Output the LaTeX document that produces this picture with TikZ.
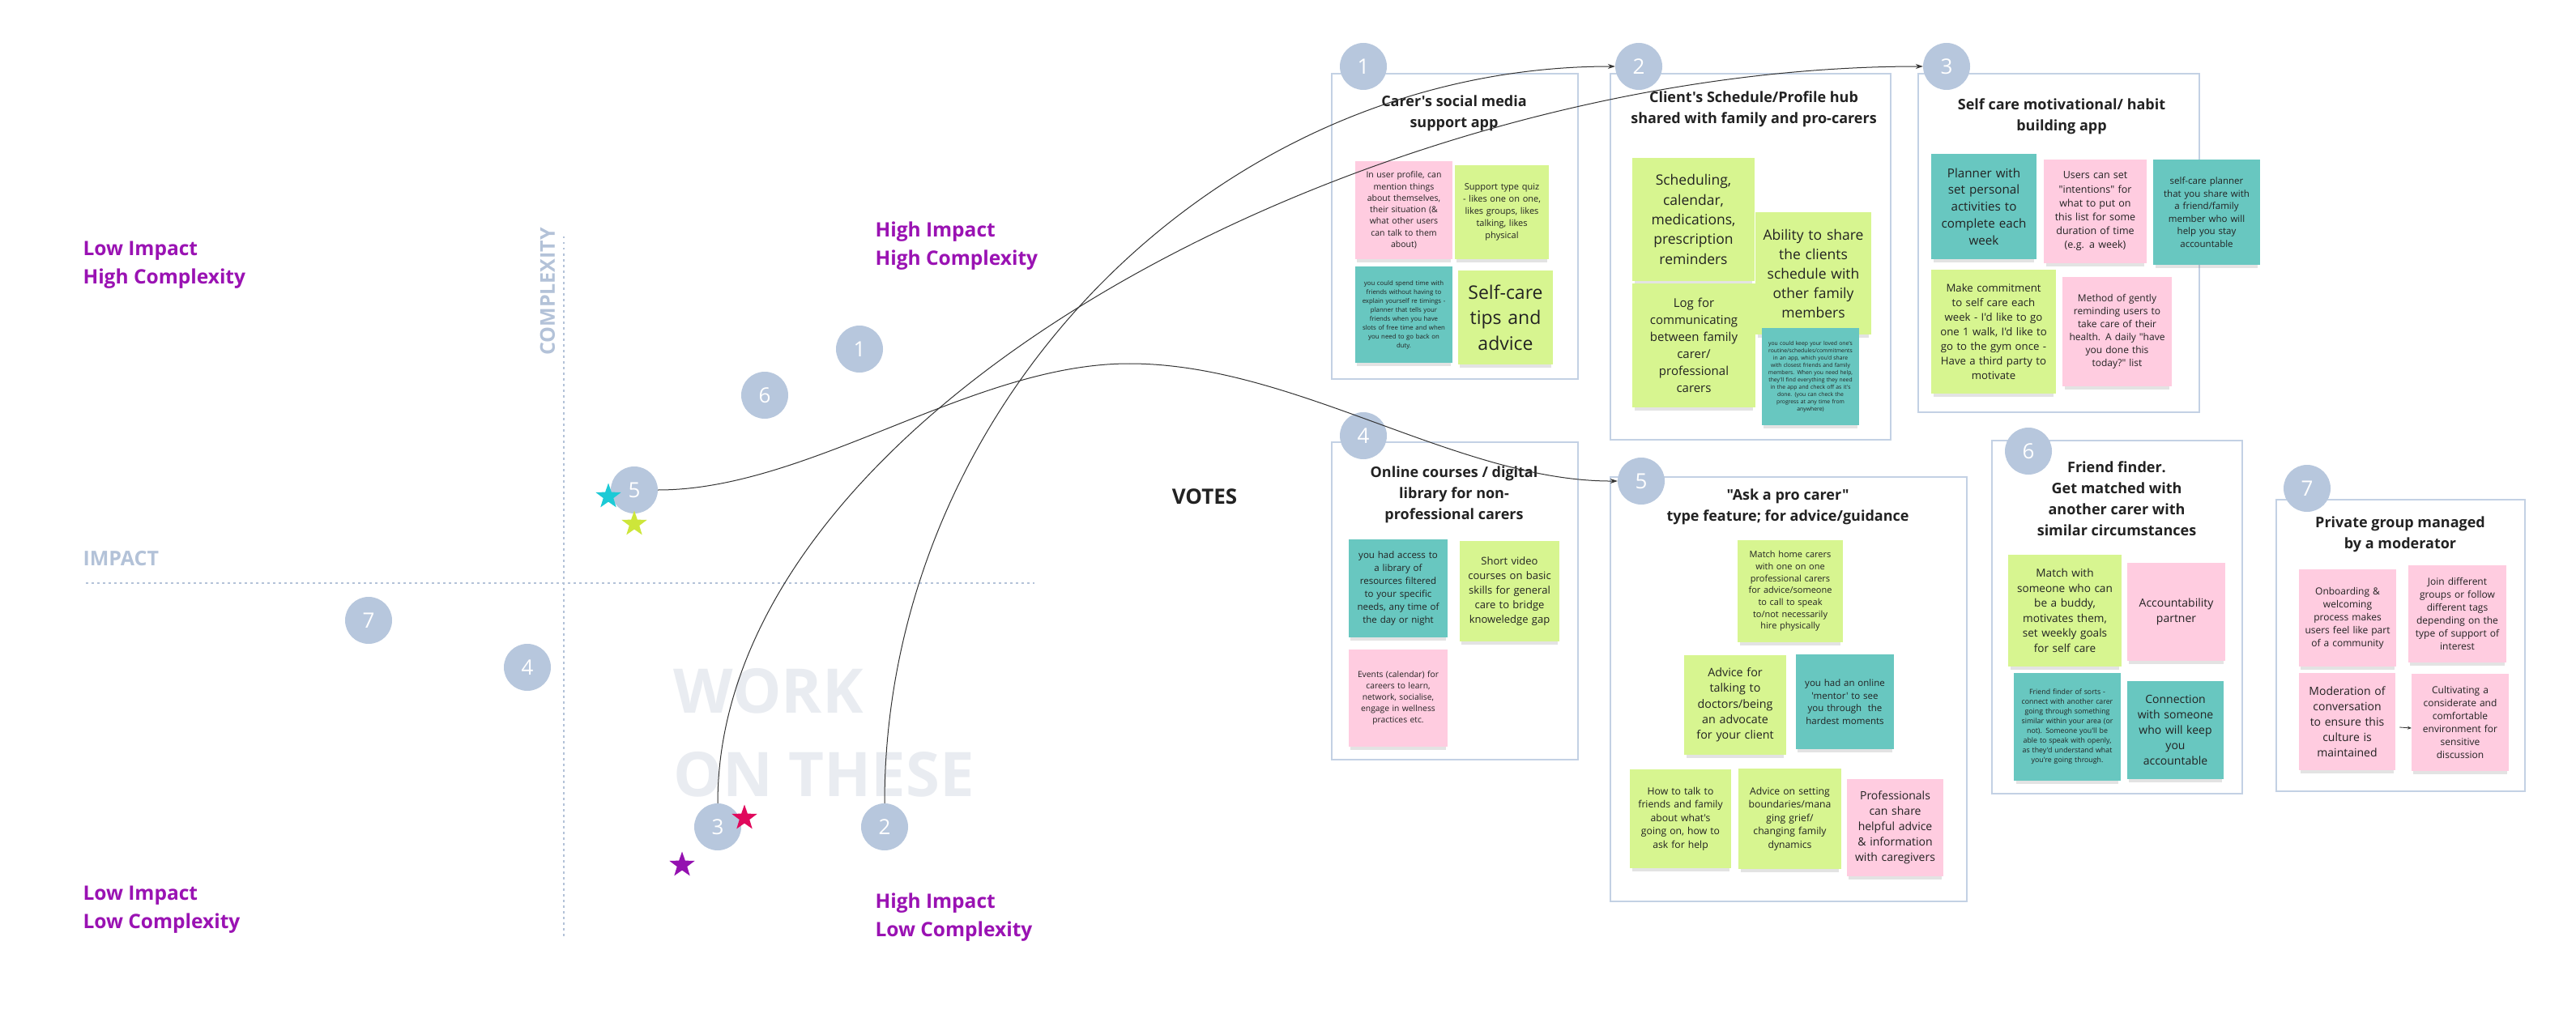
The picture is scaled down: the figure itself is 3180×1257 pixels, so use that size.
\documentclass[tikz,border=0pt]{standalone}
\usepackage{fontspec}
\setmainfont{Open Sans}[Ligatures=TeXOff]
\usetikzlibrary{shapes.geometric,arrows.meta,shadows}
\definecolor{badgeblue}{HTML}{B7C7DD}
\definecolor{frameblue}{HTML}{C3D1E4}
\definecolor{axisblue}{HTML}{B3C2D8}
\definecolor{pinkS}{HTML}{FFCCE0}
\definecolor{greenS}{HTML}{D7F590}
\definecolor{tealS}{HTML}{68C7C0}
\definecolor{quadpurple}{HTML}{9A12B3}
\definecolor{workgray}{HTML}{E9ECF1}
\definecolor{inkgray}{HTML}{222222}
\definecolor{starcyan}{HTML}{1CCAD6}
\definecolor{staryellow}{HTML}{CDE63A}
\definecolor{starred}{HTML}{E0085C}
\definecolor{starpurple}{HTML}{9411B0}
\newcommand\fs[2]{\fontsize{#1}{#2}\selectfont}
\begin{document}
\begin{tikzpicture}[x=1pt,y=-1pt,
  badge/.style={circle, fill=badgeblue, minimum size=58pt, inner sep=0pt, text=white, font=\fs{26}{30}},
  frame/.style={draw=frameblue, line width=2.5pt, fill=white},
  sticky/.style={inner sep=0pt, align=center, text=inkgray,
     drop shadow={shadow xshift=0pt, shadow yshift=-7pt, shadow scale=0.96, opacity=0.22}},
  title/.style={align=center, text=inkgray, font=\bfseries\fs{18}{26}},
  quad/.style={anchor=west, align=left, text=quadpurple, font=\bfseries\fs{24.5}{35}},
  axis/.style={axisblue, line width=2.5pt, dash pattern=on 2.5pt off 4.5pt},
  vstar/.style={star, star points=5, star point ratio=2.5, minimum size=33pt, inner sep=0pt, draw=none},
  conn/.style={draw=black!80, line width=1pt, -{Stealth[length=9pt,width=6pt]}}
]
\useasboundingbox (0,0) rectangle (3180,1257);
\fill[white] (0,0) rectangle (3180,1257);

% ---------------- matrix ----------------
\draw[axis] (696,292) -- (696,1159);
\draw[axis] (106,720) -- (1277,720);
\node[rotate=90, text=axisblue, font=\bfseries\fs{25}{30}] (complexity) at (676,360) {COMPLEXITY};
\node[anchor=west, text=axisblue, font=\bfseries\fs{25}{30}] (impact) at (99,690) {IMPACT};

\node[quad] (lihc) at (99,327) {Low Impact\\High Complexity};
\node[quad] (hihc) at (1077,304) {High Impact\\High Complexity};
\node[quad] (lilc) at (99,1123) {Low Impact\\Low Complexity};
\node[quad] (hilc) at (1077,1133) {High Impact\\Low Complexity};

\node[anchor=west, text=workgray, font=\bfseries\fs{76}{80}] (work) at (828,853) {WORK};
\node[anchor=west, text=workgray, font=\bfseries\fs{76}{80}] (onthese) at (828,956) {ON THESE};

\node[badge] (m1) at (1061,431) {1};
\node[badge] (m6) at (944,488) {6};
\node[badge] (m5) at (783,605) {5};
\node[badge] (m7) at (455,766) {7};
\node[badge] (m4) at (651,824) {4};
\node[badge] (m3) at (886,1021) {3};
\node[badge] (m2) at (1092,1021) {2};

\node[vstar, fill=starcyan] (starA) at (751,613) {};
\node[vstar, fill=staryellow] (starB) at (783,647) {};
\node[vstar, fill=starred] (starC) at (919,1010) {};
\node[vstar, fill=starpurple] (starD) at (842,1068) {};

\node[text=inkgray, font=\bfseries\fs{26}{30}] (votes) at (1487,613) {VOTES};

% ---------------- frames ----------------
\draw[frame] (1644,91) rectangle (1948,468);
\draw[frame] (1988,91) rectangle (2334,543);
\draw[frame] (2368,91) rectangle (2715,509);
\draw[frame] (1644,546) rectangle (1948,938);
\draw[frame] (1988,589) rectangle (2428,1113);
\draw[frame] (2459,544) rectangle (2768,980);
\draw[frame] (2810,617) rectangle (3117,977);

\node[badge] (b1) at (1683,82) {1};
\node[badge] (b2) at (2023,82) {2};
\node[badge] (b3) at (2403,82) {3};
\node[badge] (b4) at (1683,538) {4};
\node[badge] (b5) at (2026,594) {5};
\node[badge] (b6) at (2504,557) {6};
\node[badge] (b7) at (2848,603) {7};

\node[title] (t1) at (1795,140) {Carer's social media\\support app};
\node[title] (t2) at (2165,134.5) {Client's Schedule/Profile hub\\shared with family and pro-carers};
\node[title] (t3) at (2545,144) {Self care motivational/ habit\\building app};
\node[title] (t4) at (1795,611) {Online courses / digital\\library for non-\\professional carers};
\node[title] (t5) at (2207,625.5) {"Ask a pro carer"\\type feature; for advice/guidance};
\node[title] (t6) at (2613,616) {Friend finder.\\Get matched with\\another carer with\\similar circumstances};
\node[title] (t7) at (2963,660) {Private group managed\\by a moderator};

% ---------------- box 1 ----------------
\node[sticky, fill=pinkS, minimum width=120pt, minimum height=121pt, text width=118pt, font=\fs{10.5}{14.3}] (s1a) at (1733,259.5)
 {In user profile, can\\mention things\\about themselves,\\their situation (\&\\what other users\\can talk to them\\about)};
\node[sticky, fill=greenS, minimum width=116pt, minimum height=116pt, text width=114pt, font=\fs{11}{15}] (s1b) at (1854,262)
 {Support type quiz\\- likes one on one,\\likes groups, likes\\talking, likes\\physical};
\node[sticky, fill=tealS, minimum width=120pt, minimum height=119pt, text width=118pt, font=\fs{7.8}{11}] (s1c) at (1733,388.5)
 {you could spend time with\\friends without having to\\explain yourself re timings -\\planner that tells your\\friends when you have\\slots of free time and when\\you need to go back on\\duty.};
\node[sticky, fill=greenS, minimum width=117pt, minimum height=116pt, text width=115pt, font=\fs{23}{31.5}] (s1d) at (1858.5,392)
 {Self-care\\tips and\\advice};

% ---------------- box 2 ----------------
\node[sticky, fill=greenS, minimum width=151pt, minimum height=152pt, text width=149pt, font=\fs{17.5}{24.3}] (s2a) at (2090.5,271)
 {Scheduling,\\calendar,\\medications,\\prescription\\reminders};
\node[sticky, fill=greenS, minimum width=152pt, minimum height=153pt, text width=150pt, font=\fs{15}{21}] (s2b) at (2091,426.5)
 {Log for\\communicating\\between family\\carer/\\professional\\carers};
\node[sticky, fill=greenS, minimum width=143pt, minimum height=151pt, text width=141pt, font=\fs{17.5}{24}] (s2c) at (2238.5,337.5)
 {Ability to share\\the clients\\schedule with\\other family\\members};
\node[sticky, fill=tealS, minimum width=120pt, minimum height=120pt, text width=118pt, font=\fs{6.8}{9}] (s2d) at (2235,465)
 {you could keep your loved one's\\routine/schedules/commitments\\in an app, which you'd share\\with closest friends and family\\members. When you need help,\\they'll find everything they need\\in the app and check off as it's\\done. (you can check the\\progress at any time from\\anywhere)};

% ---------------- box 3 ----------------
\node[sticky, fill=tealS, minimum width=130pt, minimum height=130pt, text width=128pt, font=\fs{15.2}{20.7}] (s3a) at (2449,255)
 {Planner with\\set personal\\activities to\\complete each\\week};
\node[sticky, fill=pinkS, minimum width=127pt, minimum height=128pt, text width=125pt, font=\fs{12.5}{17.2}] (s3b) at (2586.5,261)
 {Users can set\\"intentions" for\\what to put on\\this list for some\\duration of time\\(e.g. a week)};
\node[sticky, fill=tealS, minimum width=132pt, minimum height=130pt, text width=130pt, font=\fs{11.5}{15.5}] (s3c) at (2724,262)
 {self-care planner\\that you share with\\a friend/family\\member who will\\help you stay\\accountable};
\node[sticky, fill=greenS, minimum width=154pt, minimum height=153pt, text width=152pt, font=\fs{13.2}{18}] (s3d) at (2461,409.5)
 {Make commitment\\to self care each\\week - I'd like to go\\one 1 walk, I'd like to\\go to the gym once -\\Have a third party to\\motivate};
\node[sticky, fill=pinkS, minimum width=135pt, minimum height=135pt, text width=133pt, font=\fs{12}{16}] (s3e) at (2613.5,409.5)
 {Method of gently\\reminding users to\\take care of their\\health. A daily "have\\you done this\\today?" list};

% ---------------- box 4 ----------------
\node[sticky, fill=tealS, minimum width=122pt, minimum height=121pt, text width=120pt, font=\fs{11.5}{16}] (s4a) at (1726,726.5)
 {you had access to\\a library of\\resources filtered\\to your specific\\needs, any time of\\the day or night};
\node[sticky, fill=greenS, minimum width=123pt, minimum height=124pt, text width=121pt, font=\fs{13}{18}] (s4b) at (1863.5,730)
 {Short video\\courses on basic\\skills for general\\care to bridge\\knoweledge gap};
\node[sticky, fill=pinkS, minimum width=122pt, minimum height=120pt, text width=120pt, font=\fs{10.3}{14}] (s4c) at (1726,862)
 {Events (calendar) for\\careers to learn,\\network, socialise,\\engage in wellness\\practices etc.};

% ---------------- box 5 ----------------
\node[sticky, fill=greenS, minimum width=130pt, minimum height=126pt, text width=128pt, font=\fs{11}{14.7}] (s5a) at (2210,730)
 {Match home carers\\with one on one\\professional carers\\for advice/someone\\to call to speak\\to/not necessarily\\hire physically};
\node[sticky, fill=greenS, minimum width=126pt, minimum height=123pt, text width=124pt, font=\fs{14.3}{19.3}] (s5b) at (2142,870.5)
 {Advice for\\talking to\\doctors/being\\an advocate\\for your client};
\node[sticky, fill=tealS, minimum width=121pt, minimum height=117pt, text width=119pt, font=\fs{11.5}{15.5}] (s5c) at (2277.5,866.5)
 {you had an online\\'mentor' to see\\you through\ \ the\\hardest moments};
\node[sticky, fill=greenS, minimum width=125pt, minimum height=122pt, text width=123pt, font=\fs{12.2}{16.5}] (s5d) at (2074.5,1011)
 {How to talk to\\friends and family\\about what's\\going on, how to\\ask for help};
\node[sticky, fill=greenS, minimum width=127pt, minimum height=124pt, text width=125pt, font=\fs{12.2}{16.5}] (s5e) at (2209.5,1011)
 {Advice on setting\\boundaries/mana\\ging grief/\\changing family\\dynamics};
\node[sticky, fill=pinkS, minimum width=119pt, minimum height=120pt, text width=117pt, font=\fs{14}{19}] (s5f) at (2339.5,1022)
 {Professionals\\can share\\helpful advice\\\& information\\with caregivers};

% ---------------- box 6 ----------------
\node[sticky, fill=greenS, minimum width=140pt, minimum height=138pt, text width=138pt, font=\fs{13.6}{18.5}] (s6a) at (2549,754)
 {Match with\\someone who can\\be a buddy,\\motivates them,\\set weekly goals\\for self care};
\node[sticky, fill=pinkS, minimum width=121pt, minimum height=121pt, text width=119pt, font=\fs{14}{19}] (s6b) at (2686.5,755.5)
 {Accountability\\partner};
\node[sticky, fill=tealS, minimum width=132pt, minimum height=133pt, text width=130pt, font=\fs{8.8}{12}] (s6c) at (2552,897.5)
 {Friend finder of sorts -\\connect with another carer\\going through something\\similar within your area (or\\not). Someone you'll be\\able to speak with openly,\\as they'd understand what\\you're going through.};
\node[sticky, fill=tealS, minimum width=119pt, minimum height=121pt, text width=117pt, font=\fs{14}{19}] (s6d) at (2685.5,901.5)
 {Connection\\with someone\\who will keep\\you\\accountable};

% ---------------- box 7 ----------------
\node[sticky, fill=pinkS, minimum width=120pt, minimum height=120pt, text width=118pt, font=\fs{12}{16}] (s7a) at (2898,763)
 {Onboarding \&\\welcoming\\process makes\\users feel like part\\of a community};
\node[sticky, fill=pinkS, minimum width=121pt, minimum height=120pt, text width=119pt, font=\fs{12}{16}] (s7b) at (3033.5,758)
 {Join different\\groups or follow\\different tags\\depending on the\\type of support of\\interest};
\node[sticky, fill=pinkS, minimum width=119pt, minimum height=120pt, text width=117pt, font=\fs{14}{19}] (s7c) at (2897.5,891)
 {Moderation of\\conversation\\to ensure this\\culture is\\maintained};
\node[sticky, fill=pinkS, minimum width=120pt, minimum height=120pt, text width=118pt, font=\fs{12}{16}] (s7d) at (3037,892)
 {Cultivating a\\considerate and\\comfortable\\environment for\\sensitive\\discussion};
\draw[draw=black!80, line width=0.8pt, -{Stealth[length=5pt,width=4pt]}] ([xshift=5pt,yshift=-7pt]s7c.east) -- ([yshift=-7pt]s7d.west);

% ---------------- connectors ----------------
\coordinate (k5) at (1394,449);
\draw[conn] (m3.north) .. controls (886,500) and (1700,82) .. (b3.west);
\draw[conn] (m2.north) .. controls (1092,500) and (1500,82) .. (b2.west);
\draw[draw=black!80, line width=1pt] (m5.east) .. controls (1000,605) and (1200,449) .. (k5);
\draw[conn] (k5) .. controls (1600,449) and (1800,595) .. (b5.west);
\end{tikzpicture}
\end{document}
